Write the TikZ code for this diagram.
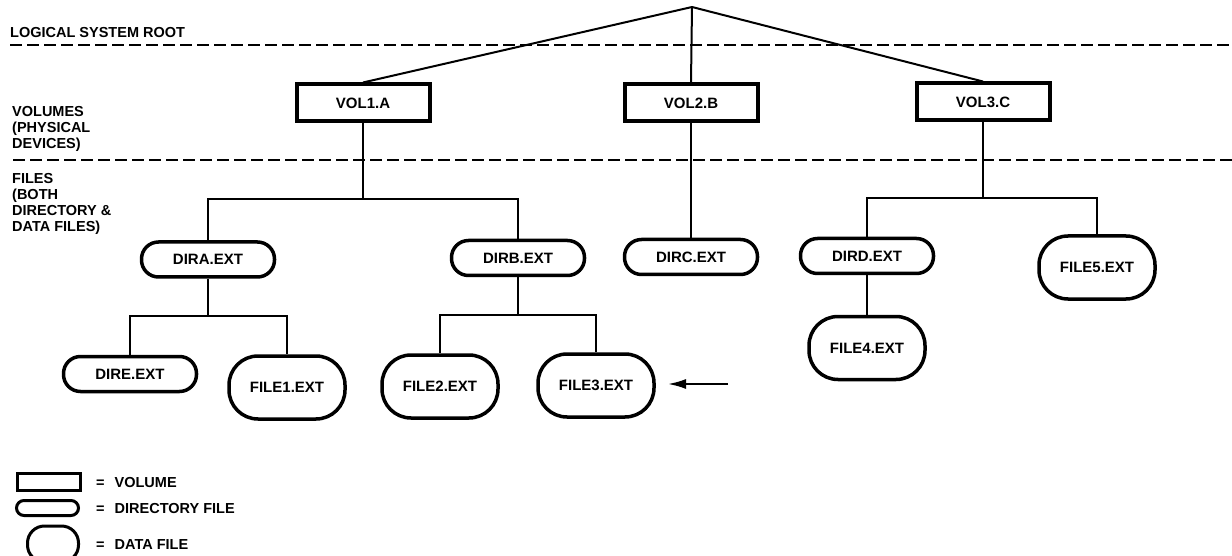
\documentclass[tikz,border=0pt]{standalone}
\usepackage{fontspec}
\setmainfont{Liberation Sans}
\usetikzlibrary{arrows.meta}
\begin{document}
\begin{tikzpicture}[x=1pt,y=-1pt,
  txt/.style={font=\fontsize{15}{16}\selectfont\bfseries},
  lbl/.style={font=\fontsize{14.5}{16}\selectfont\bfseries, inner sep=0pt, align=left},
  vol/.style={txt, draw, line width=4pt, minimum width=133pt, minimum height=37pt, inner sep=0pt},
  dirf/.style={txt, draw, line width=3.5pt, rounded corners=17pt, minimum width=133pt, minimum height=35pt, inner sep=0pt},
  dataf/.style={txt, draw, line width=3.5pt, rounded corners=29pt, minimum width=116pt, minimum height=63pt, inner sep=0pt},
  conn/.style={line width=2pt},
  dashline/.style={line width=2.7pt, dash pattern=on 12pt off 5pt}
]
\useasboundingbox (0,0) rectangle (1232,556);
\clip (0,0) rectangle (1232,556);

% level separators
\draw[dashline] (10,45) -- (1232,45);
\draw[dashline] (13,160) -- (1232,160);

% left labels
\node[lbl, anchor=base west] (lroot) at (10,38) {LOGICAL SYSTEM ROOT};
\node[lbl, anchor=north west] (lvols) at (12,106.5) {VOLUMES\\(PHYSICAL\\DEVICES)};
\node[lbl, anchor=north west] (lfiles) at (12,173.5) {FILES\\(BOTH\\DIRECTORY \&\\DATA FILES)};

% root
\coordinate (root) at (692,7);

% volumes
\node[vol] (vol1) at (363,103) {VOL1.A};
\node[vol] (vol2) at (691,103) {VOL2.B};
\node[vol] (vol3) at (983,102) {VOL3.C};

% directories
\node[dirf] (dira) at (208,259.5) {DIRA.EXT};
\node[dirf] (dirb) at (518,258) {DIRB.EXT};
\node[dirf] (dirc) at (691,257) {DIRC.EXT};
\node[dirf] (dird) at (867,256) {DIRD.EXT};
\node[dirf] (dire) at (130,374) {DIRE.EXT};

% data files
\node[dataf] (file1) at (287,387.5) {FILE1.EXT};
\node[dataf] (file2) at (440,386.5) {FILE2.EXT};
\node[dataf] (file3) at (596,385.5) {FILE3.EXT};
\node[dataf] (file4) at (867,348) {FILE4.EXT};
\node[dataf] (file5) at (1097,267.5) {FILE5.EXT};

% connectors
\draw[conn] (root) -- (vol1.north);
\draw[conn] (root) -- (vol2.north);
\draw[conn] (root) -- (vol3.north);

\coordinate (h1) at (363,199);
\draw[conn] (vol1.south) -- (h1);
\draw[conn] (dira.north) |- (h1) -| (dirb.north);

\draw[conn] (vol2.south) -- (dirc.north);

\coordinate (h3) at (983,198);
\draw[conn] (vol3.south) -- (h3);
\draw[conn] (dird.north) |- (h3) -| (file5.north);

\coordinate (h4) at (208,316);
\draw[conn] (dira.south) -- (h4);
\draw[conn] (dire.north) |- (h4) -| (file1.north);

\coordinate (h5) at (518,315);
\draw[conn] (dirb.south) -- (h5);
\draw[conn] (file2.north) |- (h5) -| (file3.north);

\draw[conn] (dird.south) -- (file4.north);

% pointer arrow
\coordinate (ptrS) at (728,384);
\coordinate (ptrE) at (668,384);
\draw[conn, -{Latex[length=18pt,width=10pt]}] (ptrS) -- (ptrE);

% legend
\node[vol, line width=3pt, minimum width=63pt, minimum height=17pt] (kvol) at (49,482) {};
\node[dirf, line width=3pt, minimum width=62pt, minimum height=15pt, rounded corners=7.5pt] (kdir) at (47.5,508) {};
\node[dataf, line width=3pt, minimum width=51pt, minimum height=36pt, rounded corners=17pt] (kdata) at (53,544) {};
\node[lbl, anchor=base west] (tvol) at (96,487) {=\hspace{10pt}VOLUME};
\node[lbl, anchor=base west] (tdir) at (96,513) {=\hspace{10pt}DIRECTORY FILE};
\node[lbl, anchor=base west] (tdata) at (96,549) {=\hspace{10pt}DATA FILE};
\end{tikzpicture}
\end{document}
